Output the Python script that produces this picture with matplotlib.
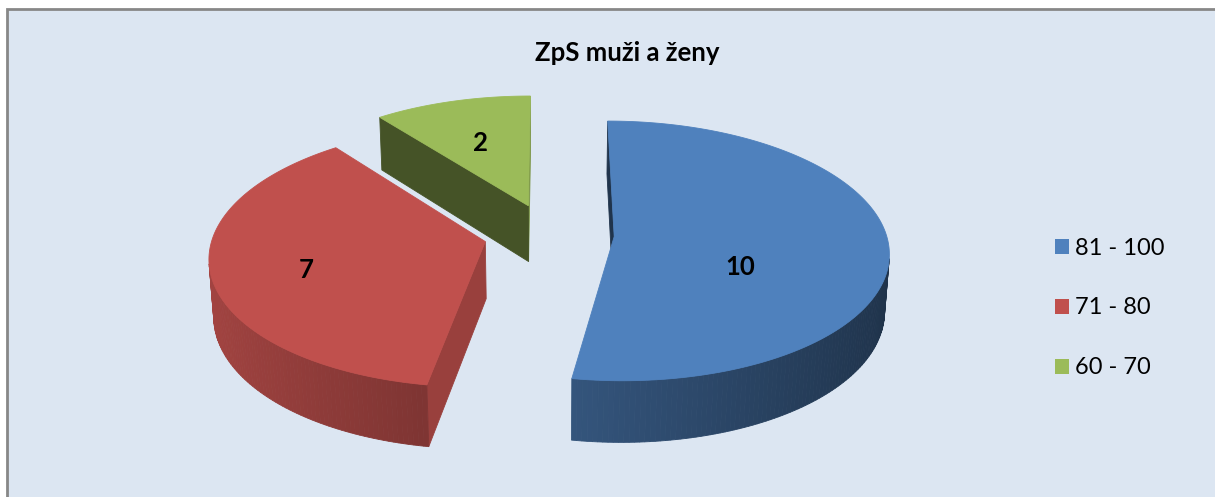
import numpy as np
import matplotlib.pyplot as plt
from matplotlib.patches import Polygon, Rectangle
import matplotlib.colors as mcolors

plt.rcParams['font.family'] = ['Lato', 'DejaVu Sans']

# data
title = 'ZpS muži a ženy'
categories = ['81 - 100', '71 - 80', '60 - 70']
values = [10, 7, 2]
colors = ['#4f81bd', '#c0504d', '#9bbb59']

# label placement per slice: radius along mid angle, extra pixel drop
label_r = [0.46, 0.66, 0.60]
label_dy = [26, 7, 2]

# 3d view settings (pixels)
W, H = 1215, 497
cx0, cy0 = 549, 234
S = 272          # pixels per pie radius
phi = np.radians(28)
D = 8.0          # camera distance
h = 0.24         # pie thickness
explode = 0.24


def project(X, Y, Z):
    v = Y * np.sin(phi) + Z * np.cos(phi)
    w = Y * np.cos(phi) - Z * np.sin(phi)
    k = D / (D + w)
    return cx0 + S * X * k, cy0 - S * v * k


def depth(X, Y, Z):
    return Y * np.cos(phi) - Z * np.sin(phi)


cam = np.array([0.0, -D * np.cos(phi), D * np.sin(phi)])


def shade(c, f):
    r, g, b = mcolors.to_rgb(c)
    return (r * f, g * f, b * f)


fig = plt.figure(figsize=(W / 100, H / 100), dpi=100)
fig.patch.set_facecolor('white')
ax = fig.add_axes([0, 0, 1, 1])
ax.set_xlim(0, W)
ax.set_ylim(H, 0)
ax.axis('off')

ax.add_patch(Rectangle((7, 9), W + 20, H + 20, facecolor='#dce6f2',
                       edgecolor='#878787', lw=2, zorder=0))

total = sum(values)
bounds = np.concatenate([[0], np.cumsum(values)]) / total * 360

slices = []
for i, val in enumerate(values):
    t1, t2 = bounds[i], bounds[i + 1]
    tm = np.radians((t1 + t2) / 2)
    ox, oy = explode * np.sin(tm), explode * np.cos(tm)
    slices.append((i, t1, t2, ox, oy))

# far slices first
slices.sort(key=lambda s: -depth(s[3], s[4], 0))

for i, t1, t2, ox, oy in slices:
    col = colors[i]
    faces = []
    th = np.radians(np.linspace(t1, t2, int(t2 - t1) + 2))

    # outer rim
    for a, b in zip(th[:-1], th[1:]):
        m = (a + b) / 2
        n = np.array([np.sin(m), np.cos(m), 0])
        p = np.array([ox + np.sin(m), oy + np.cos(m), -h / 2])
        if np.dot(n, cam - p) <= 0:
            continue
        pts3 = [(ox + np.sin(a), oy + np.cos(a), 0), (ox + np.sin(b), oy + np.cos(b), 0),
                (ox + np.sin(b), oy + np.cos(b), -h), (ox + np.sin(a), oy + np.cos(a), -h)]
        f = 0.62 - 0.23 * np.sin(m)
        faces.append((depth(*p), pts3, shade(col, f)))

    # radial faces
    for t, sgn in ((np.radians(t1), -1), (np.radians(t2), 1)):
        n = np.array([sgn * np.cos(t), -sgn * np.sin(t), 0])
        p = np.array([ox + 0.5 * np.sin(t), oy + 0.5 * np.cos(t), -h / 2])
        if np.dot(n, cam - p) <= 0:
            continue
        pts3 = [(ox, oy, 0), (ox + np.sin(t), oy + np.cos(t), 0),
                (ox + np.sin(t), oy + np.cos(t), -h), (ox, oy, -h)]
        f = 0.6 + 0.2 * n[0]
        faces.append((depth(*p), pts3, shade(col, f)))

    faces.sort(key=lambda fc: -fc[0])
    for _, pts3, fc in faces:
        xy = [project(*q) for q in pts3]
        ax.add_patch(Polygon(xy, closed=True, facecolor=fc, edgecolor=fc,
                             lw=0.6, zorder=2))

    # top face
    top = [project(ox, oy, 0)] + [project(ox + np.sin(a), oy + np.cos(a), 0) for a in th]
    ax.add_patch(Polygon(top, closed=True, facecolor=col, edgecolor=col,
                         lw=0.6, zorder=2))

    # data label
    tm = np.radians((t1 + t2) / 2)
    r = label_r[i]
    lx, ly = project(ox + r * np.sin(tm), oy + r * np.cos(tm), 0)
    ax.text(lx, ly + label_dy[i], str(values[i]), ha='center', va='center',
            fontsize=18.5, fontweight='bold', color='black', zorder=5)

ax.text(627, 53, title, ha='center', va='center', fontsize=18.5,
        fontweight='bold', color='black')

handles = [Rectangle((0, 0), 1, 1, facecolor=c, edgecolor='none') for c in colors]
leg = ax.legend(handles, categories, loc='center left',
                bbox_to_anchor=(1055 / W, 1 - 308 / H), frameon=False,
                fontsize=17, handlelength=0.6, handleheight=0.6,
                handletextpad=0.25, labelspacing=1.65, borderpad=0,
                borderaxespad=0)

fig.savefig('out.png', dpi=100, facecolor=fig.get_facecolor())
